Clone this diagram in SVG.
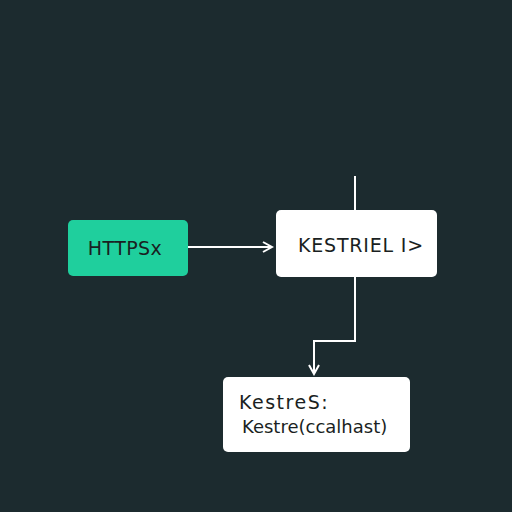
<svg xmlns="http://www.w3.org/2000/svg" width="512" height="512" viewBox="0 0 512 512">
<style>
.lbl{font-family:"DejaVu Sans","Liberation Sans",Arial,sans-serif;fill:#1a1f22}
.ln{stroke:#ffffff;stroke-width:2;fill:none}
</style>
<defs>
<marker id="ah" viewBox="0 0 12 12" refX="10" refY="6" markerWidth="12" markerHeight="12" markerUnits="userSpaceOnUse" orient="auto">
<path d="M1,1 L10,6 L1,11" fill="none" stroke="#ffffff" stroke-width="2"/>
</marker>
</defs>
<rect width="512" height="512" fill="#1c2b2f"/>
<g id="connectors">
<line class="ln" x1="188" y1="247" x2="272" y2="247" marker-end="url(#ah)"/>
<line class="ln" x1="355" y1="176" x2="355" y2="210"/>
<polyline class="ln" points="355,277 355,341 314,341 314,374" marker-end="url(#ah)"/>
</g>
<g id="https">
<rect x="68" y="220" width="120" height="56" rx="5" fill="#1fcf9d"/>
<text class="lbl" x="125" y="255" font-size="19" letter-spacing="0.4" text-anchor="middle" fill="#183a33">HTTPSx</text>
</g>
<g id="kestriel">
<rect x="276" y="210" width="161" height="67" rx="5" fill="#ffffff"/>
<text class="lbl" x="298" y="252" font-size="19" letter-spacing="0.8">KESTRIEL I&gt;</text>
</g>
<g id="kestres">
<rect x="223" y="377" width="187" height="75" rx="5" fill="#ffffff"/>
<text class="lbl" x="239" y="409" font-size="19" letter-spacing="1.5">KestreS:</text>
<text class="lbl" x="242" y="433" font-size="18">Kestre(ccalhast)</text>
</g>
</svg>
